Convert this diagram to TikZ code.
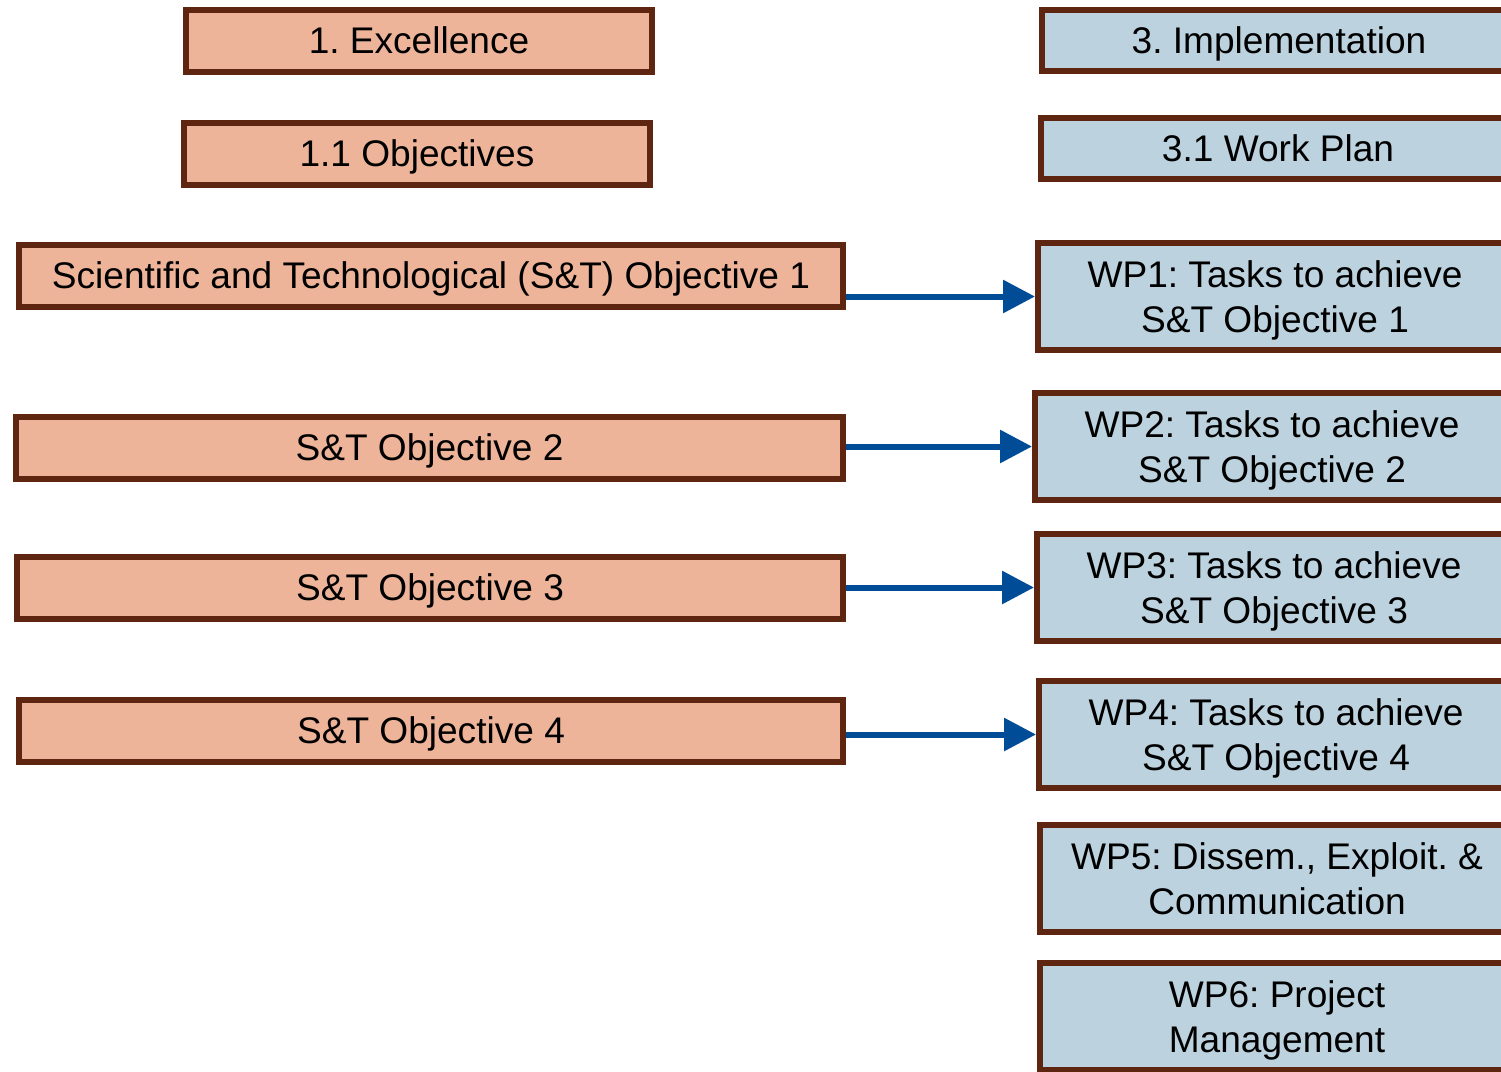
\documentclass[tikz,border=0pt]{standalone}
\usepackage{fontspec}
\setmainfont{Liberation Sans}
\usetikzlibrary{arrows.meta}

\definecolor{salmonfill}{RGB}{237,180,153}
\definecolor{bluefill}{RGB}{188,210,222}
\definecolor{brownline}{RGB}{94,38,16}
\definecolor{arrowblue}{RGB}{0,76,151}

\newcommand\boxstrut{\vrule width0pt height0.905em depth0.212em\relax}

\tikzset{every picture/.style={line width=0.75pt}}
\tikzset{
  partbox/.style={draw=brownline, line width=4.5pt, inner sep=0pt, align=center,
    font=\fontsize{27.8}{33.75}\selectfont\frenchspacing,
    execute at begin node=\boxstrut, execute at end node=\boxstrut},
  exbox/.style={partbox, fill=salmonfill, minimum height=46.5pt},
  impbox/.style={partbox, fill=bluefill, minimum width=355.5pt},
  wpbox/.style={impbox, minimum height=80.25pt, text depth=0pt},
  linkarrow/.style={draw=arrowblue, line width=4.5pt, -{Triangle[length=24pt,width=24pt]}}
}

\begin{document}
\begin{tikzpicture}[x=0.75pt,y=0.75pt,yscale=-1,xscale=1]
	\useasboundingbox (0,0) rectangle (1501,1071);

	%Shape: Rectangle [Excellence]
	\node [exbox, minimum width=349.5pt] (exc) at (419,40.5) {1. Excellence};
	%Shape: Rectangle [Objectives]
	\node [exbox, minimum width=349.5pt] (obj) at (417,153.5) {1.1 Objectives};
	%Shape: Rectangle [S&T objectives]
	\node [exbox, minimum width=618pt] (so1) at (431,276) {Scientific and Technological (S\&T) Objective 1};
	\node [exbox, minimum width=620.25pt] (so2) at (429.5,448) {S\&T Objective 2};
	\node [exbox, minimum width=619.5pt] (so3) at (430,588) {S\&T Objective 3};
	\node [exbox, minimum width=618pt] (so4) at (431,731) {S\&T Objective 4};

	%Shape: Rectangle [Implementation]
	\node [impbox, minimum height=45.75pt] (impl) at (1279,40.5) {3. Implementation};
	%Shape: Rectangle [Work Plan]
	\node [impbox, minimum height=45.75pt] (wplan) at (1278,148.5) {3.1 Work Plan};
	%Shape: Rectangle [work packages]
	\node [wpbox] (wp1) at (1275,296.5) {WP1: Tasks to achieve\\S\&T Objective 1};
	\node [wpbox] (wp2) at (1272,446.5) {WP2: Tasks to achieve\\S\&T Objective 2};
	\node [wpbox] (wp3) at (1274,587.5) {WP3: Tasks to achieve\\S\&T Objective 3};
	\node [wpbox] (wp4) at (1276,734.5) {WP4: Tasks to achieve\\S\&T Objective 4};
	\node [wpbox] (wp5) at (1277,878.5) {WP5: Dissem., Exploit. \&\\Communication};
	\node [wpbox] (wp6) at (1277,1016.5) {WP6: Project\\Management};

	%Straight Lines [objective to work package]
	\draw [linkarrow] (so1.east |- wp1.west) -- (wp1.west);
	\draw [linkarrow] (so2.east |- wp2.west) -- (wp2.west);
	\draw [linkarrow] (so3.east |- wp3.west) -- (wp3.west);
	\draw [linkarrow] (so4.east |- wp4.west) -- (wp4.west);

\end{tikzpicture}
\end{document}
